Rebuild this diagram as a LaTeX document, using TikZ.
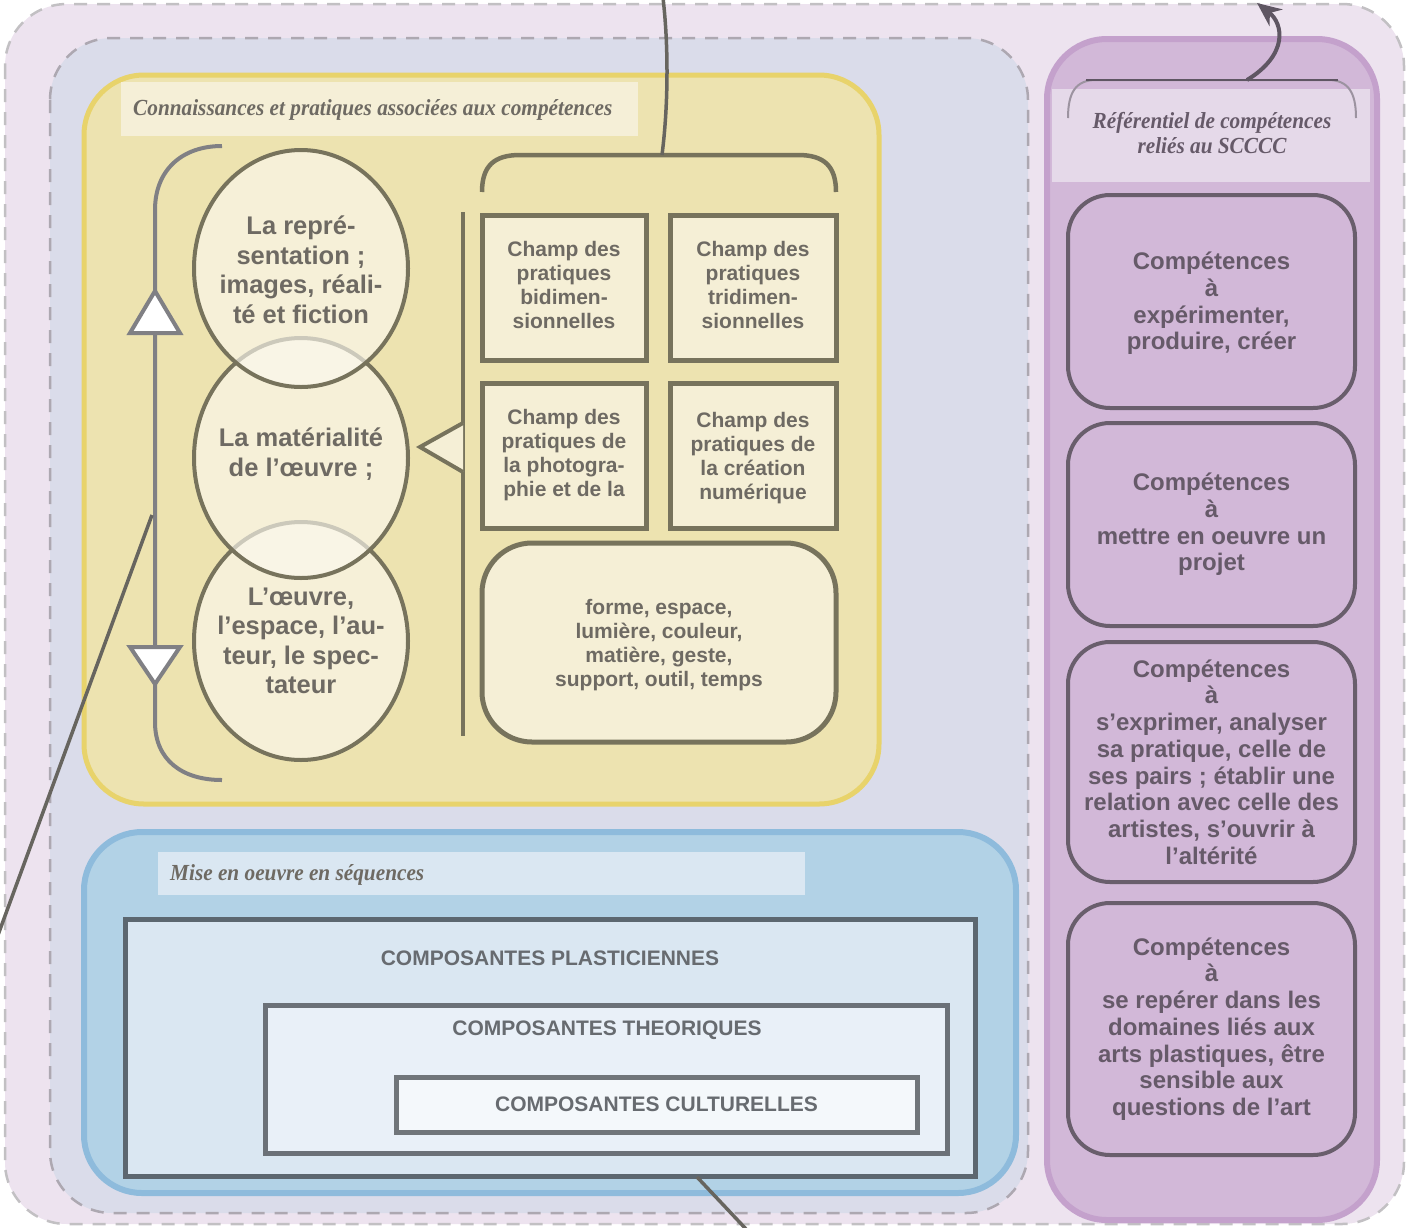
\documentclass[tikz,border=0pt]{standalone}
\usepackage{fontspec}
\setmainfont{Liberation Sans}
\newfontfamily\serifit[FakeStretch=0.925]{Liberation Serif}
\usetikzlibrary{shapes.geometric,arrows.meta}

\definecolor{outerfill}{HTML}{EDE3EF}
\definecolor{outerdash}{HTML}{C2C0C3}
\definecolor{innerfill}{HTML}{DADCEA}
\definecolor{innerdash}{HTML}{ADA8B1}
\definecolor{yelfill}{HTML}{EDE3B0}
\definecolor{yelborder}{HTML}{E8D36B}
\definecolor{yeltitle}{HTML}{F5EFD7}
\definecolor{cream}{HTML}{F5EFD6}
\definecolor{ellcream}{HTML}{FBF8EE}
\definecolor{olive}{HTML}{77735C}
\definecolor{ytext}{HTML}{6E6A63}
\definecolor{bracketgray}{HTML}{808084}
\definecolor{connc}{HTML}{67655F}
\definecolor{bluefill}{HTML}{B2D2E6}
\definecolor{blueborder}{HTML}{8EBBDC}
\definecolor{bluetitle}{HTML}{DAE7F2}
\definecolor{plfill}{HTML}{DAE7F2}
\definecolor{plborder}{HTML}{5C6770}
\definecolor{thfill}{HTML}{E9F0F8}
\definecolor{thborder}{HTML}{6B7178}
\definecolor{cufill}{HTML}{F4F8FB}
\definecolor{cuborder}{HTML}{70757A}
\definecolor{btext}{HTML}{676B70}
\definecolor{purpfill}{HTML}{D2B8D8}
\definecolor{purpborder}{HTML}{C4A1CC}
\definecolor{purptitle}{HTML}{E5D9E9}
\definecolor{pboxborder}{HTML}{695E6C}
\definecolor{ptext}{HTML}{665A69}
\definecolor{pbrlight}{HTML}{9C93A0}
\definecolor{pbrdark}{HTML}{5F5663}

\tikzset{
  circ/.style={ellipse, draw=olive, line width=4, fill=ellcream, fill opacity=0.65,
    minimum width=214, minimum height=238, inner sep=0},
  circtext/.style={align=center, inner sep=0, text=ytext,
    font=\bfseries\fontsize{25.5}{29.5}\selectfont},
  fieldbox/.style={rectangle, draw=olive, line width=5, fill=cream, align=center,
    text=ytext, inner sep=0, font=\bfseries\fontsize{21}{24}\selectfont},
  fieldtext/.style={align=center, text=ytext, inner sep=0, font=\bfseries\fontsize{21}{24}\selectfont},
  compbox/.style={rectangle, line width=5, align=center, text=btext, inner sep=0,
    font=\bfseries\fontsize{21}{24}\selectfont},
  pbox/.style={rectangle, rounded corners=42, draw=pboxborder, line width=4, fill=purpfill,
    align=center, text=ptext, inner sep=0, minimum width=287,
    font=\bfseries\fontsize{24}{26.7}\selectfont},
  titletext/.style={text=ytext, inner sep=0, font=\serifit\bfseries\itshape\fontsize{23}{25}\selectfont},
  conn/.style={draw=connc, line width=3.5},
  olivebar/.style={draw=olive, line width=4.5},
}

\begin{document}
\begin{tikzpicture}[x=1pt,y=-1pt]
\useasboundingbox (0,0) rectangle (1414,1227);

% outer frames
\draw[draw=outerdash, line width=2.5, dash pattern=on 13pt off 10pt, fill=outerfill, rounded corners=62] (5,4) rectangle (1404,1224);
\draw[draw=innerdash, line width=2.5, dash pattern=on 13pt off 10pt, fill=innerfill, rounded corners=62] (50,38) rectangle (1028,1213);

% yellow section
\draw[draw=yelborder, line width=5, fill=yelfill, rounded corners=60] (84,75) rectangle (879,804);
\fill[yeltitle] (121,82) rectangle (638,136);
\node[titletext, anchor=base west] (ytitle) at (133,115) {Connaissances et pratiques associées aux compétences};

% left bracket with triangles
\draw[draw=bracketgray, line width=4] (222,146) .. controls (182,146) and (155,170) .. (155,210) -- (155,722) .. controls (155,760) and (182,780) .. (222,780);
\draw[draw=bracketgray, line width=4, fill=white, line join=miter] (155,291) -- (180,333) -- (130,333) -- cycle;
\draw[draw=bracketgray, line width=4, fill=white, line join=miter] (155,684) -- (180,647) -- (130,647) -- cycle;

% circles
\node[circ, minimum height=238] (c3) at (301,641) {};
\node[circ, minimum height=240] (c2) at (301,458) {};
\node[circ, minimum height=237] (c1) at (301,268.5) {};
\node[circtext] (c3t) at (c3) {L’œuvre,\\l’espace, l’au-\\teur, le spec-\\tateur};
\node[circtext] (c2t) at ([yshift=4]c2.center) {La matérialité\\de l’œuvre ;};
\node[circtext] (c1t) at ([yshift=-1.5]c1.center) {La repré-\\sentation ;\\images, réali-\\té et fiction};

% vertical bar and triangle
\draw[olivebar] (463,212) -- (463,736);
\draw[draw=olive, line width=4, fill=cream, line join=miter] (463,423) -- (420,447) -- (463,472);

% top bracket
\draw[olivebar] (482,192) .. controls (482,166) and (494,155) .. (520,155) -- (798,155) .. controls (824,155) and (836,166) .. (836,192);

% field boxes
\node[fieldbox, minimum width=164, minimum height=145] (b1) at (564,287.5) {};
\node[fieldtext] (b1t) at ([yshift=3]b1.center) {Champ des\\pratiques\\bidimen-\\sionnelles};
\node[fieldbox, minimum width=166, minimum height=145] (b2) at (753,287.5) {};
\node[fieldtext] (b2t) at ([yshift=3]b2.center) {Champ des\\pratiques\\tridimen-\\sionnelles};
\node[fieldbox, minimum width=164, minimum height=145] (b3) at (564,455.5) {Champ des\\pratiques de\\la photogra-\\phie et de la};
\node[fieldbox, minimum width=166, minimum height=145] (b4) at (753,455.5) {};
\node[fieldtext] (b4t) at ([yshift=-3]b4.center) {Champ des\\pratiques de\\la création\\numérique};
\node[fieldbox, rounded corners=50, minimum width=354, minimum height=199] (b5) at (659,642.5) {};
\node[fieldtext] (b5t) at ([yshift=-3]b5.center) {forme, espace,\\lumière, couleur,\\matière, geste,\\support, outil, temps};

% blue section
\draw[draw=blueborder, line width=6, fill=bluefill, rounded corners=58] (84,832) rectangle (1016,1193);
\fill[bluetitle] (158,852) rectangle (805,895);
\node[titletext, anchor=base west] (btitle) at (170,880) {Mise en oeuvre en séquences};
\node[compbox, draw=plborder, fill=plfill, minimum width=850, minimum height=257] (pl) at (550,1047.5) {};
\node[compbox] (pltext) at (550,958) {COMPOSANTES PLASTICIENNES};
\node[compbox, draw=thborder, fill=thfill, minimum width=682, minimum height=148] (th) at (606,1079) {};
\node[compbox] (thtext) at (607,1030) {COMPOSANTES THEORIQUES};
\node[compbox, draw=cuborder, fill=cufill, minimum width=521, minimum height=55] (cu) at (656.5,1104.5) {COMPOSANTES CULTURELLES};

% purple section
\draw[draw=purpborder, line width=6, fill=purpfill, rounded corners=60] (1047,39) rectangle (1377,1220);
\fill[purptitle] (1052,89) rectangle (1370,182);
\node[titletext, text=ptext, align=center, font=\serifit\bfseries\itshape\fontsize{23}{24.5}\selectfont] (ptitle) at (1212,133) {Référentiel de compétences\\reliés au SCCCC};
\draw[draw=pbrlight, line width=2] (1068,118) .. controls (1068,92) and (1076,80) .. (1096,80) -- (1328,80) .. controls (1348,80) and (1356,92) .. (1356,118);
\draw[draw=pbrdark, line width=2.5] (1086,80) -- (1338,80);

\node[pbox, minimum height=213] (p1) at (1211.5,301.5) {};
\node[pbox, draw=none, fill=none] (p1t) at (1211.5,303.5) {Compétences\\à\\expérimenter,\\produire, créer};
\node[pbox, minimum height=203] (p2) at (1211.5,524.5) {Compétences\\à\\mettre en oeuvre un\\projet};
\node[pbox, minimum height=240] (p3) at (1211.5,762) {Compétences\\à\\s’exprimer, analyser\\sa pratique, celle de\\ses pairs ; établir une\\relation avec celle des\\artistes, s’ouvrir à\\l’altérité};
\node[pbox, minimum height=252] (p4) at (1211.5,1029) {Compétences\\à\\se repérer dans les\\domaines liés aux\\arts plastiques, être\\sensible aux\\questions de l’art};

% connectors
\coordinate (topbr) at (662,155);
\coordinate (topend) at (663,-2);
\draw[conn] (topbr) .. controls (669,100) and (668,40) .. (topend);

\coordinate (leftbr) at (152,515);
\coordinate (leftend) at (-2,935);
\draw[conn] (leftbr) -- (leftend);

\coordinate (plbot) at (697,1177);
\coordinate (botend) at (746,1229);
\draw[conn] (plbot) -- (botend);

\coordinate (pbr) at (1247,80);
\coordinate (arrend) at (1257,3);
\draw[draw=pbrdark, line width=4, -{Stealth[length=24pt,width=21pt]}] (pbr) .. controls (1288,55) and (1284,24) .. (arrend);
\end{tikzpicture}
\end{document}
